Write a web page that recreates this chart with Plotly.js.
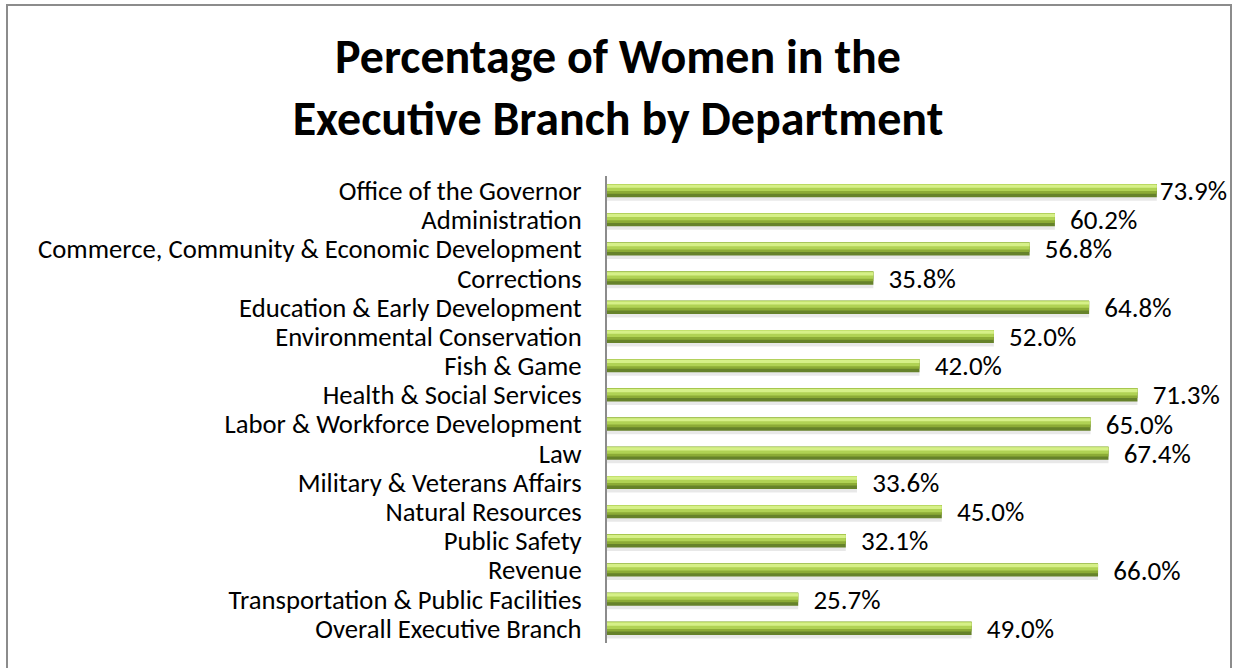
<!DOCTYPE html>
<html>
<head>
<meta charset="utf-8">
<script src="https://cdn.plot.ly/plotly-3.0.1.min.js"></script>
<style>
  html, body { margin: 0; padding: 0; background: #fff; }
  #chart { width: 1236px; height: 668px; }
</style>
</head>
<body>
<div id="chart"></div>
<script>
const departments = [
  "Office of the Governor",
  "Administration",
  "Commerce, Community & Economic Development",
  "Corrections",
  "Education & Early Development",
  "Environmental Conservation",
  "Fish & Game",
  "Health & Social Services",
  "Labor & Workforce Development",
  "Law",
  "Military & Veterans Affairs",
  "Natural Resources",
  "Public Safety",
  "Revenue",
  "Transportation & Public Facilities",
  "Overall Executive Branch"
];
const womenPct = [73.9, 60.2, 56.8, 35.8, 64.8, 52.0, 42.0, 71.3, 65.0, 67.4, 33.6, 45.0, 32.1, 66.0, 25.7, 49.0];
const titleText = "Percentage of Women in the<br>Executive Branch by Department";

const FONT = "Carlito, Lato, 'Open Sans', sans-serif";

// label text: values near the right edge are pulled in (as the original does)
const labelText = womenPct.map(v => (v > 72 ? "" : "\u00a0\u00a0") + v.toFixed(1) + "%");

function layer(color, width, offset, extra) {
  return Object.assign({
    type: "bar",
    orientation: "h",
    x: womenPct,
    y: departments,
    width: width,
    offset: offset,
    marker: { color: color, line: { width: 0 } },
    hoverinfo: "skip",
    showlegend: false
  }, extra || {});
}

const W = 0.45;
const traces = [
  layer("rgba(0,0,0,0.09)", W, -W/2 + 0.12),
  layer("#66822a", W, -W/2, {
    text: labelText,
    texttemplate: "%{text}",
    textposition: "outside",
    cliponaxis: false,
    constraintext: "none",
    textfont: { family: FONT, size: 27, color: "#000" }
  }),
  layer("#8cab36", W*0.74, -W/2),
  layer("#b0d254", W*0.54, -W/2),
  layer("#d6f088", W*0.24, -W/2 + W*0.05)
];

const layout = {
  width: 1236,
  height: 668,
  paper_bgcolor: "#fff",
  plot_bgcolor: "#fff",
  barmode: "overlay",
  margin: { l: 607, r: 71, t: 176, b: 25 },
  title: {
    text: titleText,
    font: { family: FONT, size: 48, color: "#000", weight: "bold" },
    x: 0.5, xref: "container", xanchor: "center",
    y: 1 - 73/668, yref: "container", yanchor: "top"
  },
  xaxis: {
    range: [0, 75],
    visible: false,
    fixedrange: true
  },
  yaxis: {
    type: "category",
    autorange: "reversed",
    tickmode: "linear",
    tick0: 0,
    dtick: 1,
    showline: true,
    linecolor: "#8c8c8c",
    linewidth: 2,
    showgrid: false,
    zeroline: false,
    ticks: "",
    ticklabelstandoff: 18,
    tickfont: { family: FONT, size: 26.7, color: "#000" }
  },
  shapes: [{
    type: "rect",
    xref: "paper", yref: "paper",
    x0: (7 - 607) / 558, x1: (1231 - 607) / 558,
    y0: -0.2, y1: (643 - 5) / 467,
    line: { color: "#8c8c8c", width: 2 },
    fillcolor: "rgba(0,0,0,0)",
    layer: "below"
  }],
  font: { family: FONT }
};

Plotly.newPlot("chart", traces, layout, { displayModeBar: false, staticPlot: true });
</script>
</body>
</html>
